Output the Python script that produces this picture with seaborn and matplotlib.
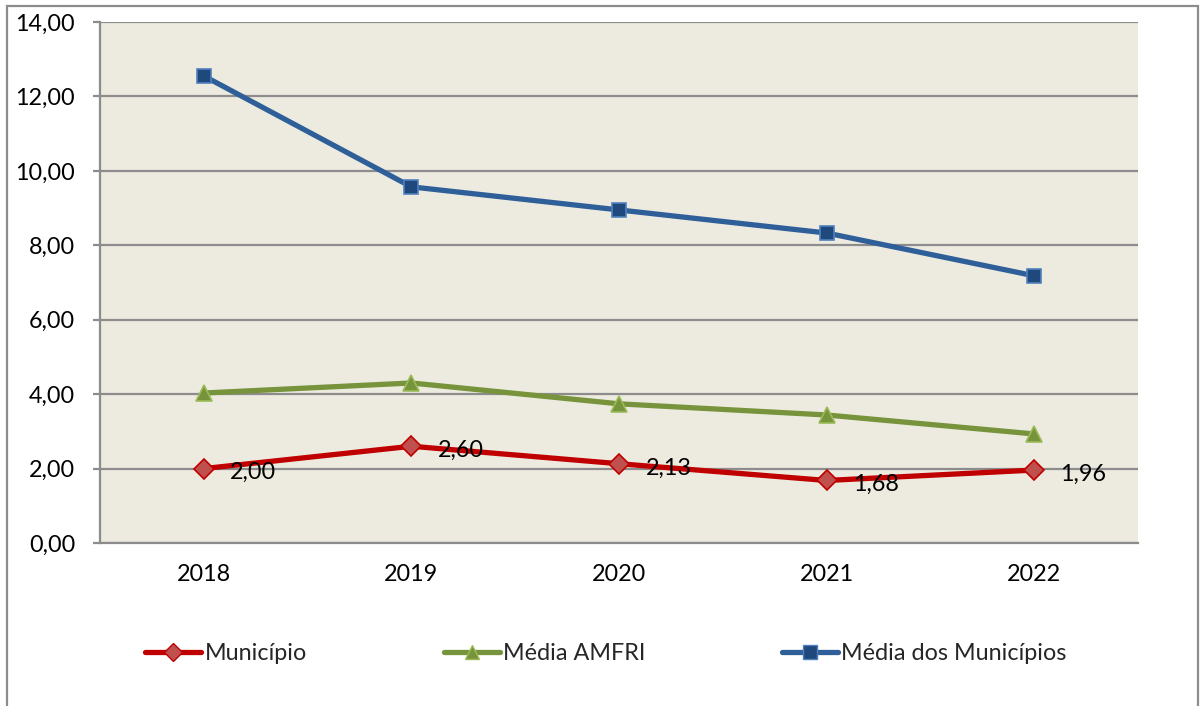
import matplotlib
matplotlib.use("Agg")
import matplotlib.pyplot as plt
from matplotlib.patches import Rectangle
from matplotlib.lines import Line2D
import seaborn as sns
import pandas as pd

years = ["2018", "2019", "2020", "2021", "2022"]
municipio = [2.00, 2.60, 2.13, 1.68, 1.96]
media_amfri = [4.03, 4.30, 3.74, 3.44, 2.93]
media_municipios = [12.55, 9.57, 8.95, 8.33, 7.18]
y_ticks = [0, 2, 4, 6, 8, 10, 12, 14]

sns.set_theme(style="white")
plt.rcParams["font.family"] = ["Lato", "DejaVu Sans"]

FS = 16.8

fig = plt.figure(figsize=(12.01, 7.06), dpi=100)
ax = fig.add_axes([100 / 1201, 1 - 543 / 706, 1038 / 1201, 521 / 706])
ax.set_facecolor("#EDEBE0")

# outer chart frame
fig.patches.append(Rectangle((7 / 1201, -0.05), 1191 / 1201, 1.05 - 6 / 706,
                             transform=fig.transFigure, fill=False,
                             edgecolor="#8C8C8C", linewidth=1.6, zorder=0))

df = pd.DataFrame({
    "idx": list(range(len(years))) * 3,
    "valor": municipio + media_amfri + media_municipios,
    "serie": ["Município"] * 5 + ["Média AMFRI"] * 5 + ["Média dos Municípios"] * 5,
})

styles = {
    "Município": dict(color="#C00000", marker="D", mfc="#C0504D", mec="#C00000", ms=10.5),
    "Média AMFRI": dict(color="#77933C", marker="^", mfc="#77933C", mec="#9BBB59", ms=11.5),
    "Média dos Municípios": dict(color="#2F5F98", marker="s", mfc="#1F497D", mec="#4F81BD", ms=10.5),
}

for name in ["Média dos Municípios", "Média AMFRI", "Município"]:
    st = styles[name]
    sub = df[df["serie"] == name]
    sns.lineplot(data=sub, x="idx", y="valor", ax=ax, color=st["color"],
                 linewidth=3.8, marker=st["marker"], markersize=st["ms"],
                 markerfacecolor=st["mfc"], markeredgecolor=st["mec"],
                 markeredgewidth=1.2, zorder=3, legend=False)

for i, v in enumerate(municipio):
    ax.annotate(f"{v:.2f}".replace(".", ","), (i, v), xytext=(19, -3),
                textcoords="offset points", ha="left", va="center",
                fontsize=FS, color="black", zorder=4)

ax.set_xlim(-0.5, len(years) - 0.5)
ax.set_ylim(0, 14)
ax.set_xticks(range(len(years)))
ax.set_xticklabels(years)
ax.set_yticks(y_ticks)
ax.set_yticklabels([f"{t:.2f}".replace(".", ",") for t in y_ticks])
ax.set_xlabel("")
ax.set_ylabel("")
ax.grid(axis="y", color="#8C8C8C", linewidth=1.6)
ax.set_axisbelow(True)
for s in ["top", "right"]:
    ax.spines[s].set_visible(False)
for s in ["left", "bottom"]:
    ax.spines[s].set_color("#8C8C8C")
    ax.spines[s].set_linewidth(1.6)
ax.tick_params(axis="y", length=5, width=1.6, color="#8C8C8C", pad=13,
               labelsize=FS, labelcolor="black", left=True)
ax.tick_params(axis="x", length=0, pad=15, labelsize=FS, labelcolor="black")

handles = [Line2D([0], [0], color=styles[n]["color"], linewidth=3.8,
                  marker=styles[n]["marker"], markersize=styles[n]["ms"] * 0.9,
                  markerfacecolor=styles[n]["mfc"], markeredgecolor=styles[n]["mec"])
           for n in ["Município", "Média AMFRI", "Média dos Municípios"]]
fig.legend(handles, ["Município", "Média AMFRI", "Média dos Municípios"],
           loc="center", bbox_to_anchor=(606 / 1201, 52 / 706), ncol=3,
           frameon=False, fontsize=FS, handlelength=2.4, handletextpad=0.15,
           columnspacing=5.85)

fig.savefig("out.png", dpi=100)
